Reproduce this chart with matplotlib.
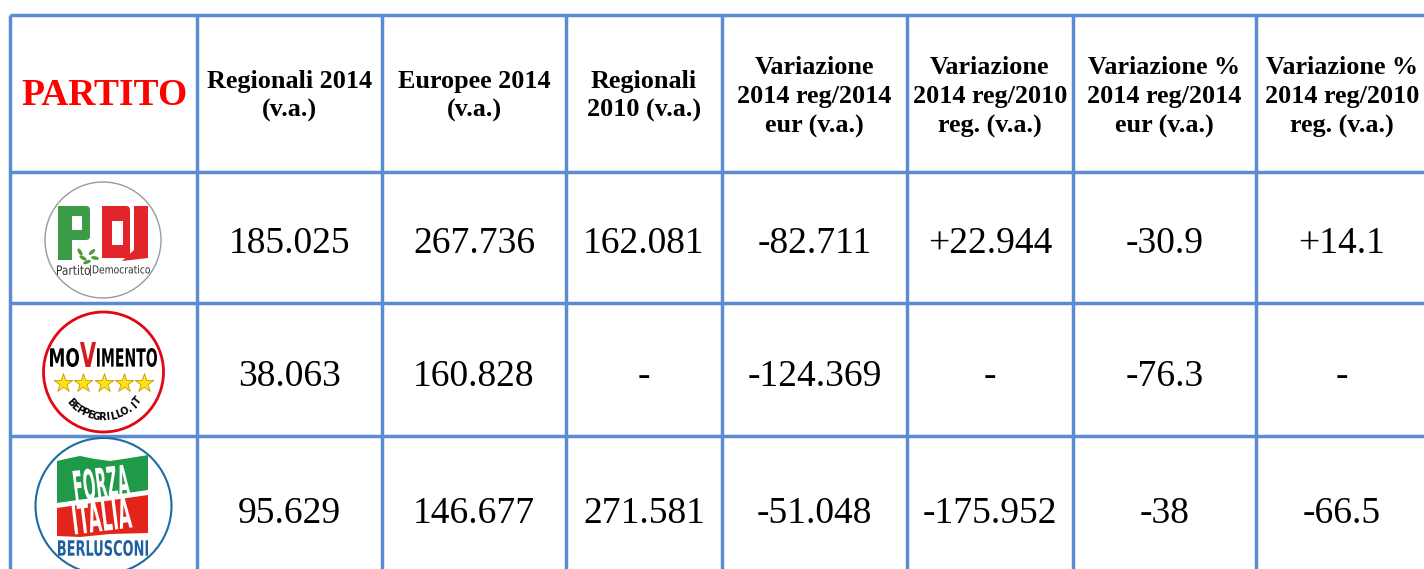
import numpy as np
import matplotlib
matplotlib.use('Agg')
import matplotlib.pyplot as plt
from matplotlib.patches import Circle, Rectangle, Polygon, Ellipse, PathPatch, FancyBboxPatch
from matplotlib.textpath import TextPath
from matplotlib.font_manager import FontProperties
from matplotlib.transforms import Affine2D

# data
headers = ['Regionali 2014\n(v.a.)', 'Europee 2014\n(v.a.)', 'Regionali\n2010 (v.a.)',
           'Variazione\n2014 reg/2014\neur (v.a.)', 'Variazione\n2014 reg/2010\nreg. (v.a.)',
           'Variazione %\n2014 reg/2014\neur (v.a.)', 'Variazione %\n2014 reg/2010\nreg. (v.a.)']
parties = ['PD', 'M5S', 'FI']
reg2014 = [185025, 38063, 95629]
eur2014 = [267736, 160828, 146677]
reg2010 = [162081, None, 271581]
var_eur = [-82711, -124369, -51048]
var_reg = [22944, None, -175952]
pct_eur = [-30.9, -76.3, -38]
pct_reg = [14.1, None, -66.5]

# layout (pixels)
col_edges = [10, 197, 382, 566, 722, 907, 1073, 1256, 1430]
row_edges = [15, 172, 303, 436, 580]
line_col = '#5b8bd3'
serif = 'Liberation Serif'


def fmt_int(v, sign=False):
    if v is None:
        return '-'
    s = f'{v:+,}' if sign else f'{v:,}'
    return s.replace(',', '.')


def fmt_pct(v):
    if v is None:
        return '-'
    return f'{v:+g}'


fig = plt.figure(figsize=(14.24, 5.69), dpi=100)
ax = fig.add_axes([0, 0, 1, 1])
ax.set_xlim(0, 1424)
ax.set_ylim(569, 0)
ax.axis('off')

for x in col_edges:
    ax.plot([x, x], [row_edges[0], row_edges[-1]], color=line_col, lw=2.5, solid_capstyle='butt')
for y in row_edges:
    ax.plot([col_edges[0], col_edges[-1]], [y, y], color=line_col, lw=2.5, solid_capstyle='butt')

centers_x = [(a + b) / 2 for a, b in zip(col_edges[:-1], col_edges[1:])]
centers_x[-1] = 1342
row_y = [95, 240, 373, 510]

ax.text(104, row_y[0], 'PARTITO', color='#ff0000', fontsize=27, fontweight='bold',
        family=serif, ha='center', va='center')
for j, h in enumerate(headers):
    ax.text(centers_x[j + 1], row_y[0] + (2 if h.count('\n') == 2 else 1), h, fontsize=18.8,
            fontweight='bold', family=serif, ha='center', va='center', linespacing=1.36)

columns = [
    [fmt_int(v) for v in reg2014],
    [fmt_int(v) for v in eur2014],
    [fmt_int(v) for v in reg2010],
    [fmt_int(v, True) for v in var_eur],
    [fmt_int(v, True) for v in var_reg],
    [fmt_pct(v) for v in pct_eur],
    [fmt_pct(v) for v in pct_reg],
]
for j, col in enumerate(columns):
    for i, s in enumerate(col):
        ax.text(centers_x[j + 1], row_y[i + 1], s, fontsize=27, family=serif,
                ha='center', va='center_baseline')


def fit_text(s, x0, x1, y0, y1, color, angle=0, weight='bold', family='DejaVu Sans', z=6):
    tp = TextPath((0, 0), s, size=10, prop=FontProperties(family=family, weight=weight))
    bb = tp.get_extents()
    sx = (x1 - x0) / bb.width
    sy = (y1 - y0) / bb.height
    tr = (Affine2D().translate(-(bb.x0 + bb.x1) / 2, -(bb.y0 + bb.y1) / 2)
          .scale(sx, -sy).rotate_deg(-angle).translate((x0 + x1) / 2, (y0 + y1) / 2))
    ax.add_patch(PathPatch(tr.transform_path(tp), fc=color, ec='none', zorder=z))


# PD logo
ax.add_patch(Circle((103, 240), 58, fc='white', ec='#9a9a9a', lw=1, zorder=3))
green = '#3c9b47'
red = '#e2252b'
ax.add_patch(FancyBboxPatch((62, 210), 24, 26, boxstyle='round,pad=4', fc=green, ec='none', zorder=4))
ax.add_patch(Rectangle((58, 206), 14, 54, fc=green, ec='none', zorder=4))
ax.add_patch(Rectangle((72, 216), 10, 14, fc='white', ec='none', zorder=5))
ax.add_patch(FancyBboxPatch((106, 210), 20, 44, boxstyle='round,pad=4', fc=red, ec='none', zorder=4))
ax.add_patch(Rectangle((102, 206), 10, 52, fc=red, ec='none', zorder=4))
ax.add_patch(Rectangle((112, 221), 11, 24, fc='white', ec='none', zorder=5))
ax.add_patch(Polygon([(134, 206), (148, 206), (148, 258), (122, 261), (134, 250)],
                     fc=red, ec='none', zorder=4))
for ex, ey, ang in [(83, 258, 30), (92, 252, -40), (80, 252, 60), (95, 258, 10), (87, 262, -20)]:
    ax.add_patch(Ellipse((ex, ey), 8, 3.5, angle=ang, fc='#4e9a35', ec='none', zorder=5))
fit_text('Partito', 57, 90, 265, 275, '#333333', weight='normal')
fit_text('|Democratico', 90, 150, 265, 276, '#333333', weight='normal')

# M5S logo
ax.add_patch(Circle((103.5, 372), 60, fc='white', ec='#e30613', lw=2, zorder=3))
fit_text('MO', 50, 79, 348, 367, 'black')
fit_text('V', 80, 96, 342, 367, '#d71920')
fit_text('IMENTO', 97, 157, 348, 367, 'black')
ax.scatter([63, 83, 103.5, 124, 144], [383] * 5, marker='*', s=200, c='#ffe11a',
           edgecolors='#c89b00', linewidths=0.6, zorder=6)
txt = 'BEPPEGRILLO.IT'
phis = np.linspace(-47, 50, len(txt))
for ch, ph in zip(txt, phis):
    r = np.radians(ph)
    ax.text(103.5 + 45 * np.sin(r), 372 + 45 * np.cos(r), ch, fontsize=7, fontweight='bold',
            rotation=ph, ha='center', va='center', rotation_mode='anchor', zorder=6)

# FI logo
ax.add_patch(Circle((103.5, 506), 68, fc='white', ec='#1d6aa5', lw=1.5, zorder=3))
ax.add_patch(Polygon([(57, 461), (70, 458), (80, 456), (95, 459), (110, 461), (130, 458), (148, 455),
                      (148, 490), (57, 503)], fc='#1f9a48', ec='none', zorder=4))
ax.add_patch(Polygon([(57, 508), (148, 495), (148, 533), (110, 534), (80, 537), (57, 536)],
                     fc='#e3241b', ec='none', zorder=4))
fit_text('FORZA', 74, 129, 467, 499, 'white', angle=7, family='DejaVu Sans')
fit_text('ITALIA', 73, 131, 500, 531, 'white', angle=7, family='DejaVu Sans')
fit_text('BERLUSCONI', 58, 148, 540, 556, '#1f5fa0')

fig.savefig('out.png', dpi=100)
